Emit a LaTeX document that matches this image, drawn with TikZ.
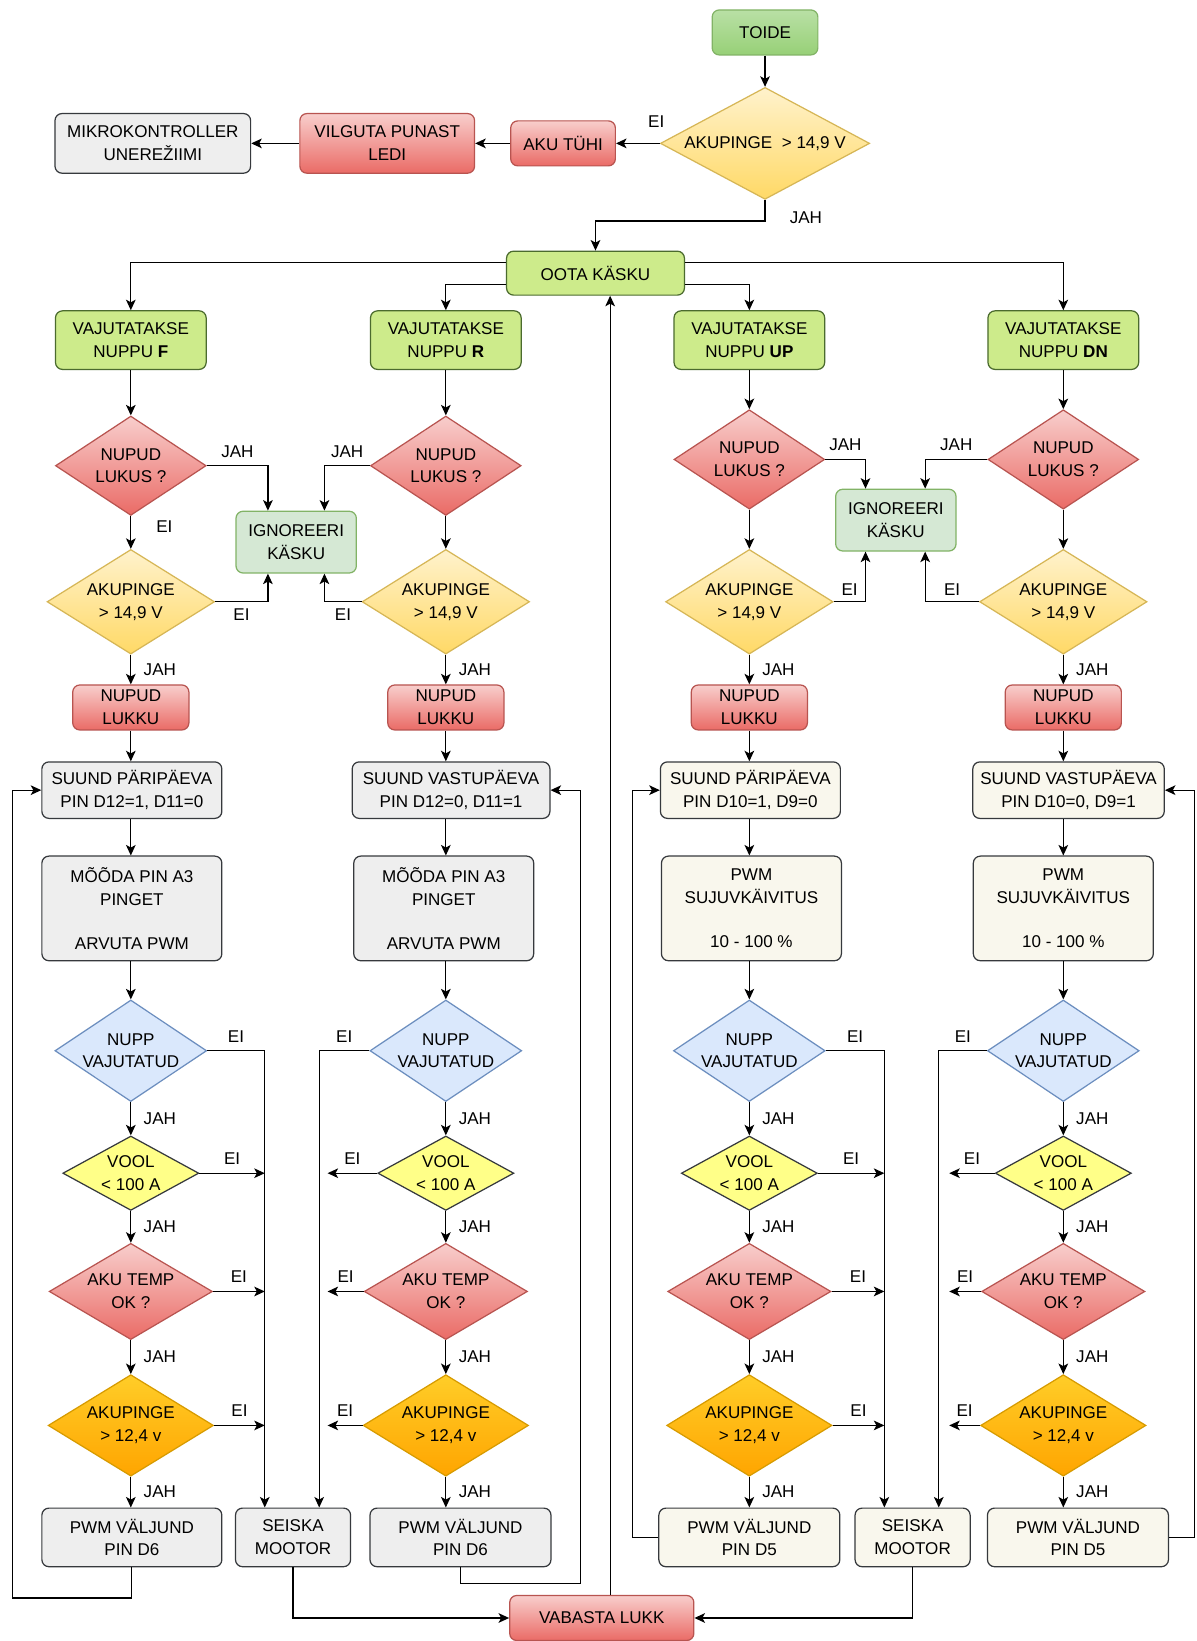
\documentclass[tikz,border=0pt]{standalone}
\usepackage{fontspec}
\setmainfont{Liberation Sans}
\usetikzlibrary{shapes.geometric,arrows.meta,positioning,calc}

\definecolor{cEdge}{HTML}{36393D}
\definecolor{cLime}{HTML}{CDEB8B}
\definecolor{cLimeEdge}{HTML}{4B6B2E}
\definecolor{cGrey}{HTML}{EEEEEE}
\definecolor{cBeige}{HTML}{F9F7ED}
\definecolor{cRedTop}{HTML}{F8CECC}
\definecolor{cRedBot}{HTML}{EA6B66}
\definecolor{cRedEdge}{HTML}{B85450}
\definecolor{cYelTop}{HTML}{FFF2CC}
\definecolor{cYelBot}{HTML}{FFD966}
\definecolor{cYelEdge}{HTML}{D6B656}
\definecolor{cGrnTop}{HTML}{B9E0A5}
\definecolor{cGrnBot}{HTML}{97D077}
\definecolor{cGrnEdge}{HTML}{82B366}
\definecolor{cMint}{HTML}{D5E8D4}
\definecolor{cBlue}{HTML}{DAE8FC}
\definecolor{cBlueEdge}{HTML}{6C8EBF}
\definecolor{cVool}{HTML}{FFFF88}
\definecolor{cOrTop}{HTML}{FFCD28}
\definecolor{cOrBot}{HTML}{FFA500}
\definecolor{cOrEdge}{HTML}{D79B00}

\tikzset{
  box/.style={rectangle, rounded corners=4pt, draw=cEdge, line width=0.7pt,
    align=center, inner sep=1pt},
  dia/.style={diamond, aspect=1.5, draw=cEdge, line width=0.7pt,
    align=center, inner sep=0pt},
  sz/.style 2 args={minimum width=#1, minimum height=#2},
  limebox/.style={box, fill=cLime, draw=cLimeEdge},
  greybox/.style={box, fill=cGrey},
  beigebox/.style={box, fill=cBeige},
  mintbox/.style={box, fill=cMint, draw=cGrnEdge},
  startbox/.style={box, top color=cGrnTop, bottom color=cGrnBot, draw=cGrnEdge},
  redbox/.style={box, top color=cRedTop, bottom color=cRedBot, draw=cRedEdge},
  yeldia/.style={dia, top color=cYelTop, bottom color=cYelBot, draw=cYelEdge},
  reddia/.style={dia, top color=cRedTop, bottom color=cRedBot, draw=cRedEdge},
  bluedia/.style={dia, fill=cBlue, draw=cBlueEdge},
  vooldia/.style={dia, fill=cVool},
  orangedia/.style={dia, top color=cOrTop, bottom color=cOrBot, draw=cOrEdge},
  arr/.style={-{Stealth[length=6pt,width=5.5pt,inset=1.5pt]}, line width=0.7pt},
  lbl/.style={inner sep=1pt}
}

\begin{document}
\begin{tikzpicture}[x=0.020928cm, y=-0.020928cm, font=\fontsize{9.7}{13}\selectfont]

\fill[white] (0,0) rectangle (1143,1568);
\useasboundingbox (0,0) rectangle (1143,1568);

% start
\node[startbox, sz={2.114cm}{0.900cm}] (toide) at (731,31) {TOIDE};
\node[yeldia, aspect=1.87, sz={4.186cm}{2.239cm}] (volt0) at (731,137) {AKUPINGE \ > 14,9 V};
\node[redbox, sz={2.093cm}{0.900cm}] (empty) at (538,137) {AKU TÜHI};
\node[redbox, sz={3.495cm}{1.193cm}] (blink) at (370,137) {VILGUTA PUNAST\\LEDI};
\node[greybox, sz={3.914cm}{1.193cm}] (sleep) at (146,137) {MIKROKONTROLLER\\UNEREŽIIMI};
\node[limebox, sz={3.558cm}{0.879cm}] (wait) at (569,261) {OOTA KÄSKU};
\node[lbl] (ei0) at (627,116) {EI};
\node[lbl] (jah0) at (770,208) {JAH};

\draw[arr] (toide) -- (volt0);
\draw[arr] (volt0) -- (empty);
\draw[arr] (empty) -- (blink);
\draw[arr] (blink) -- (sleep);
\draw[arr] (volt0.south) -- ++(0,20) -| (wait);

% buttons, lock check, voltage check
\foreach \c/\x/\ly/\k in {f/125/445/F, r/426/445/R, u/716/439/UP, d/1016/439/DN} {
  \node[limebox, sz={3.014cm}{1.172cm}] (press-\c) at (\x,325) {VAJUTATAKSE\\NUPPU \textbf{\k}};
  \node[reddia, sz={3.014cm}{1.988cm}] (lock-\c) at (\x,\ly) {NUPUD\\LUKUS ?};
  \node[yeldia, sz={3.349cm}{2.093cm}] (volt-\c) at (\x,575) {AKUPINGE\\> 14,9 V};
  \node[redbox, sz={2.323cm}{0.900cm}] (lukku-\c) at (\x,676) {NUPUD\\LUKKU};
  \draw[arr] (press-\c) -- (lock-\c);
  \draw[arr] (lock-\c) -- (volt-\c);
  \draw[arr] (volt-\c) -- node[lbl, right=6pt] (jv-\c) {JAH} (lukku-\c);
}
\node[lbl] (el-f) at (157,503) {EI};

\draw[arr] ([yshift=0.21cm]wait.west) -| (press-f);
\draw[arr] ([yshift=-0.23cm]wait.west) -| (press-r);
\draw[arr] ([yshift=-0.23cm]wait.east) -| (press-u);
\draw[arr] ([yshift=0.21cm]wait.east) -| (press-d);

% ignore command
\node[mintbox, sz={2.407cm}{1.235cm}] (ign-l) at (283,518) {IGNOREERI\\KÄSKU};
\node[mintbox, sz={2.407cm}{1.235cm}] (ign-r) at (856,497) {IGNOREERI\\KÄSKU};
\foreach \c/\g/\v/\p in {f/l/256/below, r/l/310/below, u/r/827/above, d/r/884/above} {
  \draw[arr] (lock-\c) -| node[lbl, above=3.5pt, pos=0.25] (jl-\c) {JAH} (ign-\g.north -| \v,0);
  \draw[arr] (volt-\c) -| node[lbl, \p=2.5pt, pos=0.25] (ev-\c) {EI} (ign-\g.south -| \v,0);
}

% direction and pwm
\node[greybox, sz={3.600cm}{1.130cm}] (dir-f) at (126,755) {SUUND PÄRIPÄEVA\\PIN D12=1, D11=0};
\node[greybox, sz={3.955cm}{1.130cm}] (dir-r) at (431,755) {SUUND VASTUPÄEVA\\PIN D12=0, D11=1};
\node[beigebox, sz={3.600cm}{1.130cm}] (dir-u) at (717,755) {SUUND PÄRIPÄEVA\\PIN D10=1, D9=0};
\node[beigebox, sz={3.830cm}{1.130cm}] (dir-d) at (1021,755) {SUUND VASTUPÄEVA\\PIN D10=0, D9=1};
\node[greybox, sz={3.600cm}{2.093cm}] (meas-f) at (126,868) {MÕÕDA PIN A3\\PINGET\\[0.42cm]ARVUTA PWM};
\node[greybox, sz={3.600cm}{2.093cm}] (meas-r) at (424,868) {MÕÕDA PIN A3\\PINGET\\[0.42cm]ARVUTA PWM};
\node[beigebox, sz={3.600cm}{2.093cm}] (meas-u) at (718,868) {PWM\\SUJUVKÄIVITUS\\[0.42cm]10 - 100 \%};
\node[beigebox, sz={3.600cm}{2.093cm}] (meas-d) at (1016,868) {PWM\\SUJUVKÄIVITUS\\[0.42cm]10 - 100 \%};

% outputs
\node[greybox, sz={3.600cm}{1.172cm}] (out-f) at (126,1469) {PWM VÄLJUND\\PIN D6};
\node[greybox, sz={2.302cm}{1.172cm}] (stop-l) at (280,1469) {SEISKA\\MOOTOR};
\node[greybox, sz={3.620cm}{1.172cm}] (out-r) at (440,1469) {PWM VÄLJUND\\PIN D6};
\node[beigebox, sz={3.620cm}{1.172cm}] (out-u) at (716,1469) {PWM VÄLJUND\\PIN D5};
\node[beigebox, sz={2.302cm}{1.172cm}] (stop-r) at (872,1469) {SEISKA\\MOOTOR};
\node[beigebox, sz={3.620cm}{1.172cm}] (out-d) at (1030,1469) {PWM VÄLJUND\\PIN D5};
\node[redbox, sz={3.683cm}{0.900cm}] (free) at (575,1546) {VABASTA LUKK};

% checks while running
\foreach \c/\x/\s/\e/\m in {f/125/253/253/l, r/426/305/313/l, u/716/845/845/r, d/1016/897/907/r} {
  \node[bluedia, sz={3.035cm}{2.030cm}] (btn-\c) at (\x,1004) {NUPP\\VAJUTATUD};
  \node[vooldia, sz={2.721cm}{1.465cm}] (cur-\c) at (\x,1121) {VOOL\\< 100 A};
  \node[reddia, sz={3.265cm}{1.925cm}] (temp-\c) at (\x,1234) {AKU TEMP\\OK ?};
  \node[orangedia, sz={3.307cm}{2.030cm}] (low-\c) at (\x,1362) {AKUPINGE\\> 12,4 v};
  \draw[arr] (lukku-\c) -- (lukku-\c |- dir-\c.north);
  \draw[arr] (dir-\c.south -| btn-\c) -- (meas-\c.north -| btn-\c);
  \draw[arr] (meas-\c.south -| btn-\c) -- (btn-\c);
  \draw[arr] (btn-\c) -- node[lbl, right=6pt] (j1-\c) {JAH} (cur-\c);
  \draw[arr] (cur-\c) -- node[lbl, right=6pt] (j2-\c) {JAH} (temp-\c);
  \draw[arr] (temp-\c) -- node[lbl, right=6pt] (j3-\c) {JAH} (low-\c);
  \draw[arr] (low-\c) -- node[lbl, right=6pt] (j4-\c) {JAH} (low-\c |- out-\c.north);
  \draw[arr] (btn-\c) -| node[lbl, above=3.5pt, pos=0.25] (e1-\c) {EI} (\s,0 |- stop-\m.north);
  \draw[arr] (cur-\c) -- node[lbl, above=3.5pt] (e2-\c) {EI} (\e,1121);
  \draw[arr] (temp-\c) -- node[lbl, above=3.5pt] (e3-\c) {EI} (\e,1234);
  \draw[arr] (low-\c) -- node[lbl, above=3.5pt] (e4-\c) {EI} (\e,1362);
}

% loops back to direction
\coordinate (lp-f) at (12,1527);
\coordinate (lp-r) at (555,1513);
\coordinate (lp-u) at (604,755);
\coordinate (lp-d) at (1141,755);
\draw[arr] (out-f) |- (lp-f) |- (dir-f);
\draw[arr] (out-r) |- (lp-r) |- (dir-r);
\draw[arr] (out-u) -| (lp-u) -- (dir-u);
\draw[arr] (out-d) -| (lp-d) -- (dir-d);

% release lock
\draw[arr] (stop-l) |- (free);
\draw[arr] (stop-r) |- (free);
\draw[arr] (free.north -| 583,0) -- (wait.south -| 583,0);
\end{tikzpicture}
\end{document}
